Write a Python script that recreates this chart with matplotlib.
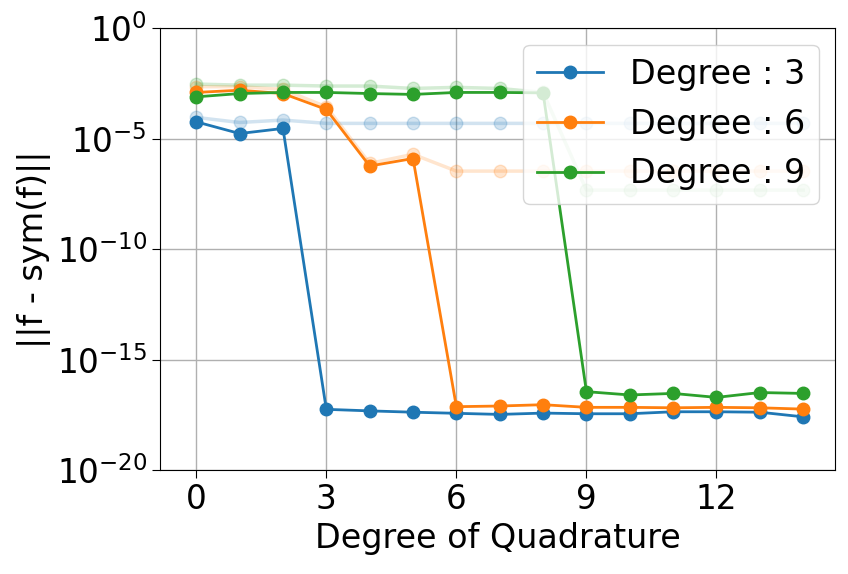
import matplotlib
matplotlib.use("Agg")
import matplotlib.pyplot as plt
import numpy as np

degrees = [3, 6, 9]
quad_degree = np.arange(15)

# log10 of ||f - sym(f)|| (solid series)
err_log = {
    3: [-4.24, -4.77, -4.54, -17.25, -17.32, -17.38, -17.43, -17.48, -17.42,
        -17.45, -17.45, -17.36, -17.36, -17.38, -17.59],
    6: [-2.91, -2.81, -2.96, -3.68, -6.24, -5.90, -17.13, -17.10, -17.04,
        -17.16, -17.16, -17.18, -17.16, -17.18, -17.24],
    9: [-3.11, -2.96, -2.91, -2.91, -2.96, -3.00, -2.91, -2.91, -2.93,
        -16.45, -16.60, -16.53, -16.71, -16.49, -16.53],
}

# faded reference series
ref_log = {
    3: [-4.04, -4.27, -4.16, -4.31, -4.31, -4.31, -4.31, -4.31, -4.31,
        -4.31, -4.31, -4.31, -4.31, -4.31, -4.31],
    6: [-2.65, -2.65, -2.77, -3.56, -6.12, -5.71, -6.47, -6.47, -6.47,
        -6.47, -6.47, -6.47, -6.47, -6.47, -6.47],
    9: [-2.53, -2.58, -2.58, -2.62, -2.62, -2.73, -2.68, -2.73, -2.91,
        -7.33, -7.33, -7.33, -7.33, -7.33, -7.33],
}

colors = {3: "#1f77b4", 6: "#ff7f0e", 9: "#2ca02c"}

fig = plt.figure(figsize=(8.48, 5.74), dpi=100)
ax = fig.add_axes([0.189, 0.181, 0.796, 0.770])

for d in degrees:
    ax.plot(quad_degree, 10.0 ** np.array(ref_log[d]), "o-", color=colors[d],
            alpha=0.2, linewidth=2.5, markersize=9)
for d in degrees:
    ax.plot(quad_degree, 10.0 ** np.array(err_log[d]), "o-", color=colors[d],
            linewidth=2, markersize=9, label=f"Degree : {d}")

ax.set_yscale("log")
ax.set_ylim(1e-20, 1e0)
ax.set_yticks([1e0, 1e-5, 1e-10, 1e-15, 1e-20])
ax.set_xticks([0, 3, 6, 9, 12])
ax.set_xlim(-0.83, 14.74)
ax.tick_params(labelsize=23.5, length=6)
ax.minorticks_off()
ax.grid(True, color="#b0b0b0", linewidth=1)
ax.set_xlabel("Degree of Quadrature", fontsize=24)
ax.set_ylabel("||f - sym(f)||", fontsize=24)
ax.legend(loc="upper right", fontsize=24)

fig.savefig("out.png")
